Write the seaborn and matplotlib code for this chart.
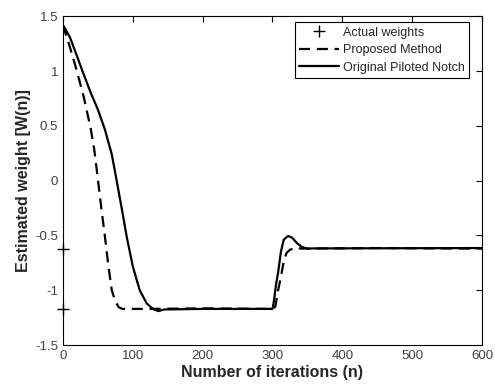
import matplotlib
matplotlib.use('Agg')
import matplotlib.pyplot as plt
import seaborn as sns
from matplotlib.lines import Line2D

# proposed method (dashed)
prop_n = [0, 10, 20, 30, 40, 45, 50, 55, 60, 65, 70, 75, 80, 85, 120, 200, 300,
          304, 308, 312, 316, 320, 325, 330, 335, 340, 450, 600]
prop_w = [1.42, 1.22, 1.0, 0.76, 0.47, 0.28, 0.02, -0.25, -0.5, -0.77, -1.0, -1.1,
          -1.155, -1.17, -1.17, -1.165, -1.17,
          -1.15, -1.0, -0.88, -0.74, -0.66, -0.63, -0.62, -0.61, -0.62, -0.615, -0.62]

# original piloted notch (solid)
orig_n = [0, 10, 20, 28, 40, 50, 60, 70, 77, 85, 91, 100, 110, 120, 130, 137, 145,
          200, 300, 302, 305, 308, 312, 316, 322, 328, 335, 342, 350, 360, 600]
orig_w = [1.42, 1.31, 1.14, 1.0, 0.8, 0.65, 0.47, 0.24, 0.0, -0.28, -0.5, -0.78,
          -1.0, -1.12, -1.175, -1.19, -1.175,
          -1.17, -1.17, -1.1, -0.95, -0.84, -0.65, -0.54, -0.505, -0.52, -0.57,
          -0.605, -0.62, -0.618, -0.615]

# actual weights
act_n = [0, 0]
act_w = [-0.62, -1.17]

sns.set_style('white')
plt.rcParams['font.family'] = ['Liberation Sans', 'DejaVu Sans']

fig, ax = plt.subplots(figsize=(4.95, 3.86), dpi=100)
fig.subplots_adjust(left=0.127, right=0.974, bottom=0.106, top=0.958)

sns.lineplot(x=prop_n, y=prop_w, ax=ax, color='black', linestyle=(0, (5, 3)), linewidth=1.6)
sns.lineplot(x=orig_n, y=orig_w, ax=ax, color='black', linestyle='-', linewidth=1.6)
ax.plot(act_n, act_w, '+', color='black', markersize=8, markeredgewidth=1.0, clip_on=False)

ax.set_xlim(0, 600)
ax.set_ylim(-1.5, 1.5)
ax.set_xticks([0, 100, 200, 300, 400, 500, 600])
ax.set_yticks([-1.5, -1, -0.5, 0, 0.5, 1, 1.5])
ax.set_yticklabels(['-1.5', '-1', '-0.5', '0', '0.5', '1', '1.5'])
ax.tick_params(direction='in', length=4, width=0.8, top=True, right=True,
               labelsize=9.5, labelcolor='#404040', color='black')
for s in ax.spines.values():
    s.set_color('black')
    s.set_linewidth(0.8)

ax.set_xlabel('Number of iterations (n)', fontsize=11.5, fontweight='bold', labelpad=2)
ax.set_ylabel('Estimated weight [W(n)]', fontsize=11.5, fontweight='bold', labelpad=3)

handles = [
    Line2D([], [], color='black', marker='+', linestyle='none', markersize=8),
    Line2D([], [], color='black', linestyle=(0, (5, 3)), linewidth=1.6),
    Line2D([], [], color='black', linestyle='-', linewidth=1.6),
]
labels = ['Actual weights', 'Proposed Method', 'Original Piloted Notch']
leg = ax.legend(handles, labels, loc='upper right', bbox_to_anchor=(0.969, 0.982),
                fontsize=9, frameon=True, fancybox=False, edgecolor='black',
                framealpha=1, borderaxespad=0, handlelength=3.2, handletextpad=0.3,
                labelspacing=0.45, borderpad=0.35)
leg.get_frame().set_linewidth(0.8)

fig.savefig('out.png', dpi=100)
